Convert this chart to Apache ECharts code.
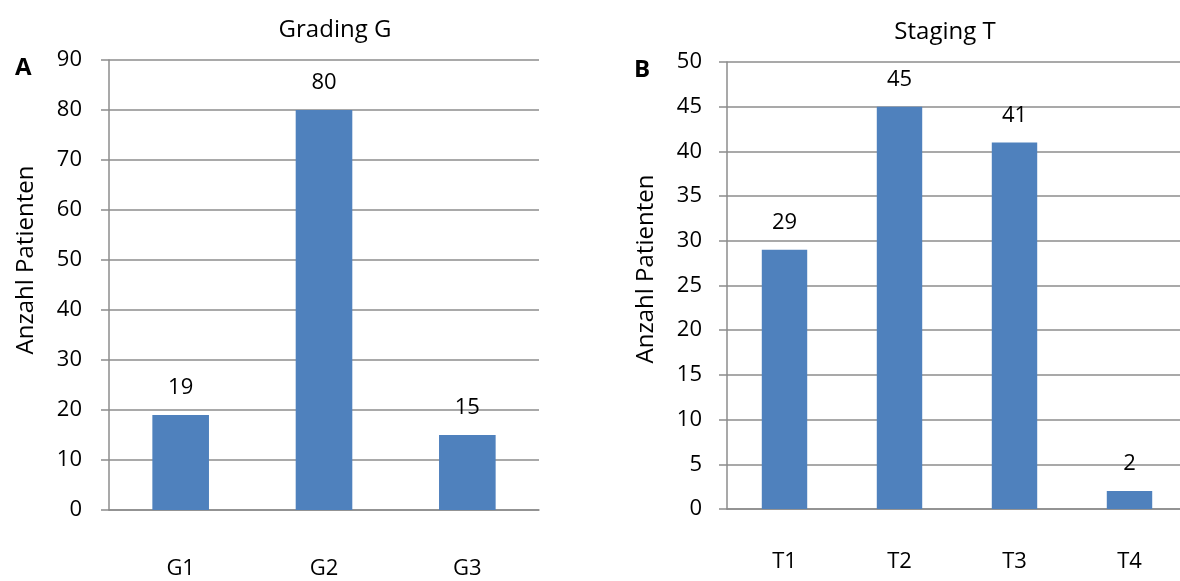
<!DOCTYPE html>
<html>
<head>
<meta charset="utf-8">
<script src="https://cdn.jsdelivr.net/npm/echarts@6/dist/echarts.min.js"></script>
<style>
  html, body { margin: 0; padding: 0; background: #fff; }
  #chart { width: 1180px; height: 581px; }
</style>
</head>
<body>
<div id="chart"></div>
<script>
// Panel A: tumour grading
const gradingCategories = ['G1', 'G2', 'G3'];
const gradingCounts = [19, 80, 15];
// Panel B: tumour staging
const stagingCategories = ['T1', 'T2', 'T3', 'T4'];
const stagingCounts = [29, 45, 41, 2];

const FONT = '"Open Sans", "Liberation Sans", sans-serif';
const LINE = '#8c8c8c';
const BAR = '#4f81bd';

function valueAxis(gridIndex, max, interval, margin) {
  return {
    type: 'value', gridIndex, min: 0, max, interval,
    axisLine: { show: true, lineStyle: { color: LINE, width: 1.5 } },
    axisTick: { show: true, length: 8, lineStyle: { color: LINE, width: 1.5 } },
    axisLabel: { fontFamily: FONT, fontSize: 22, color: '#000', margin },
    splitLine: { show: true, lineStyle: { color: LINE, width: 1.5 } }
  };
}
function categoryAxis(gridIndex, data, margin) {
  return {
    type: 'category', gridIndex, data,
    axisLine: { show: true, lineStyle: { color: LINE, width: 1.5 } },
    axisTick: { show: false },
    axisLabel: { fontFamily: FONT, fontSize: 22, color: '#000', margin }
  };
}
function barSeries(idx, data) {
  return {
    type: 'bar', xAxisIndex: idx, yAxisIndex: idx, data, barWidth: '39.5%',
    itemStyle: { color: BAR },
    label: { show: true, position: 'top', distance: 16, fontFamily: FONT, fontSize: 22, color: '#000' }
  };
}
// rotated axis caption
function yCaption(x, y) {
  return {
    type: 'text', x, y, rotation: Math.PI / 2,
    style: { text: 'Anzahl Patienten', font: '24px ' + FONT, fill: '#000',
             textAlign: 'center', textVerticalAlign: 'middle' }
  };
}

const chart = echarts.init(document.getElementById('chart'), null, { renderer: 'canvas' });
chart.setOption({
  animation: false,
  title: [
    { text: 'Grading G', left: 330, top: 13, textAlign: 'center',
      textStyle: { fontFamily: FONT, fontSize: 24, fontWeight: 'normal', color: '#000' } },
    { text: 'Staging T', left: 940, top: 15, textAlign: 'center',
      textStyle: { fontFamily: FONT, fontSize: 24, fontWeight: 'normal', color: '#000' } },
    { text: 'A', left: 10, top: 51,
      textStyle: { fontFamily: FONT, fontSize: 24, fontWeight: 'bold', color: '#000' } },
    { text: 'B', left: 629, top: 53,
      textStyle: { fontFamily: FONT, fontSize: 24, fontWeight: 'bold', color: '#000' } }
  ],
  graphic: [ yCaption(26, 260), yCaption(646, 269) ],
  grid: [
    { left: 109, width: 430, top: 60, bottom: 71, outerBoundsMode: 'none', containLabel: false },
    { left: 727, width: 460, top: 62, bottom: 72, outerBoundsMode: 'none', containLabel: false }
  ],
  xAxis: [
    categoryAxis(0, gradingCategories, 48),
    categoryAxis(1, stagingCategories, 42)
  ],
  yAxis: [
    valueAxis(0, 90, 10, 27),
    valueAxis(1, 50, 5, 25)
  ],
  series: [
    barSeries(0, gradingCounts),
    barSeries(1, stagingCounts)
  ]
});
</script>
</body>
</html>
